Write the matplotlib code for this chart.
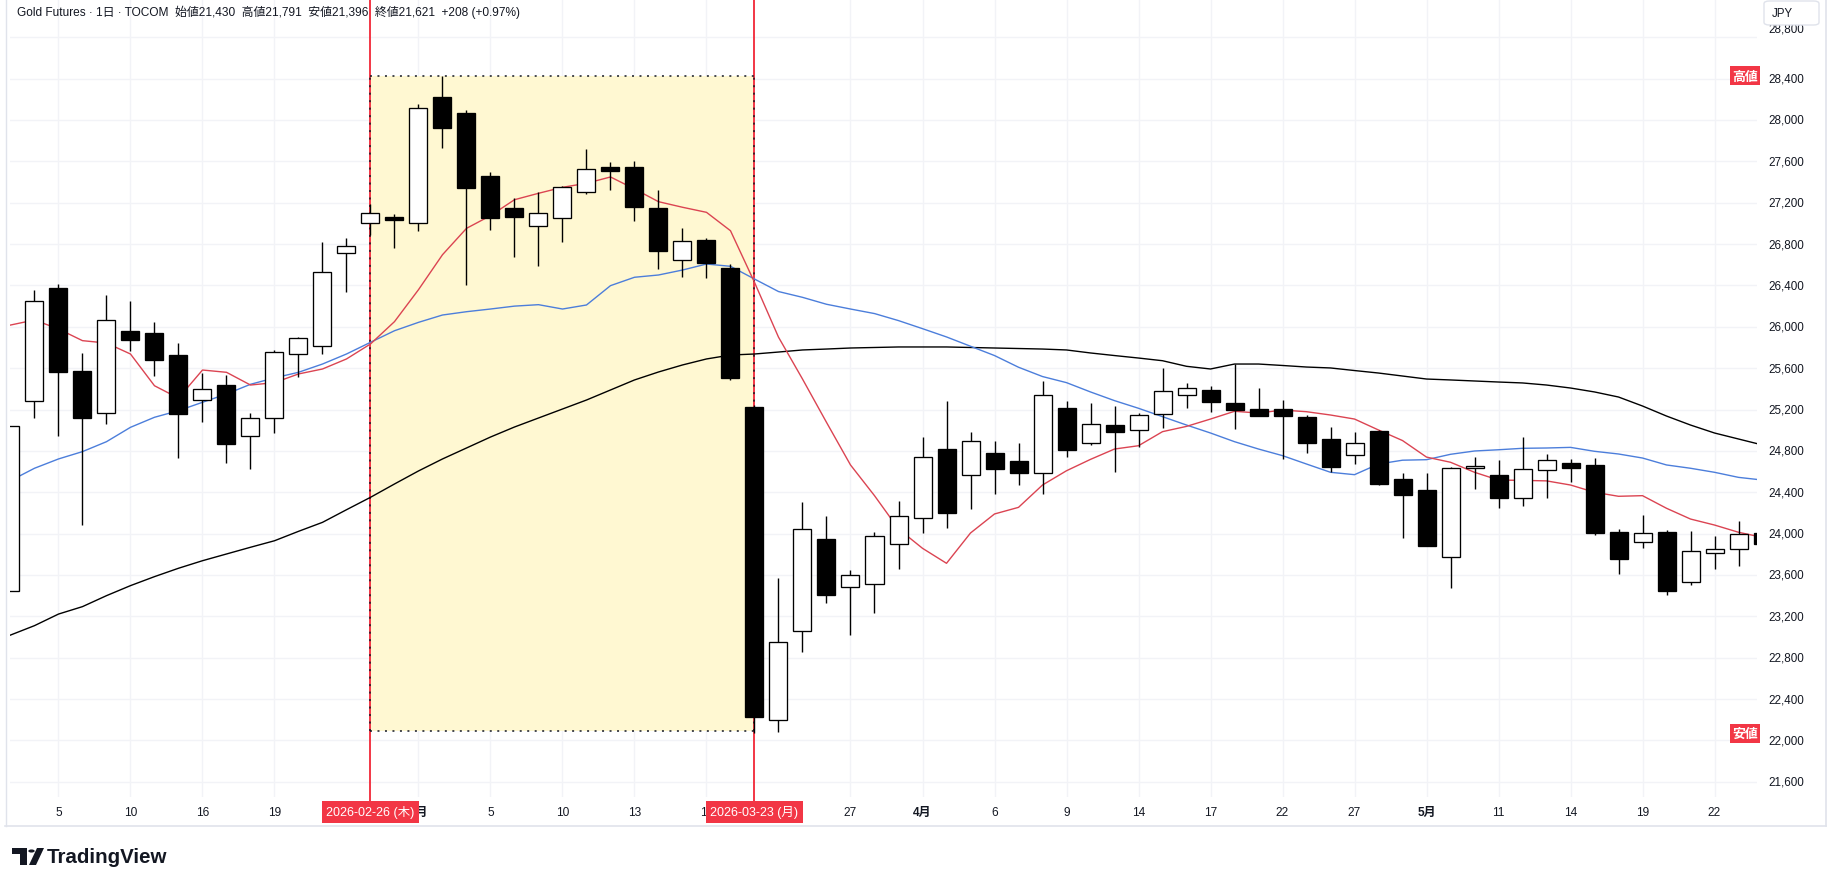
import matplotlib
matplotlib.use('Agg')
import matplotlib.pyplot as plt
import matplotlib.transforms as mtrans
from matplotlib.patches import Rectangle, FancyBboxPatch, Polygon, Circle

plt.rcParams['font.family'] = ['Liberation Sans', 'Noto Sans CJK JP', 'DejaVu Sans']

# ---------------- data ----------------
dates = ['02-03', '02-04', '02-05', '02-06', '02-09', '02-10', '02-12', '02-13', '02-16', '02-17',
         '02-18', '02-19', '02-20', '02-24', '02-25', '02-26', '02-27', '03-02', '03-03', '03-04',
         '03-05', '03-06', '03-09', '03-10', '03-11', '03-12', '03-13', '03-16', '03-17', '03-18',
         '03-19', '03-23', '03-24', '03-25', '03-26', '03-27', '03-30', '03-31', '04-01', '04-02',
         '04-03', '04-06', '04-07', '04-08', '04-09', '04-10', '04-13', '04-14', '04-15', '04-16',
         '04-17', '04-20', '04-21', '04-22', '04-23', '04-24', '04-27', '04-28', '04-30', '05-01',
         '05-07', '05-08', '05-11', '05-12', '05-13', '05-14', '05-15', '05-18', '05-19', '05-20',
         '05-21', '05-22', '05-25', '05-26']

opens = [23442, 25280, 26375, 25573, 25163, 25957, 25940, 25724, 25289, 25434,
         24941, 25115, 25737, 25814, 26711, 27001, 27059, 27001, 28220, 28068,
         27458, 27146, 26972, 27049, 27301, 27543, 27543, 27146, 26649, 26837,
         26569, 25221, 22194, 23055, 23945, 23481, 23510, 23897, 24148, 24815,
         24564, 24777, 24699, 24583, 25212, 24873, 25047, 24999, 25154, 25338,
         25386, 25263, 25202, 25202, 25125, 24912, 24757, 24992, 24525, 24422,
         23771, 24632, 24564, 24341, 24612, 24680, 24661, 24013, 23916, 24013,
         23529, 23810, 23848, 24003]
highs = [25044, 26356, 26414, 25747, 26308, 26250, 26046, 25843, 25550, 25534,
         25163, 25780, 25900, 26820, 26859, 27185, 27088, 28155, 28428, 28094,
         27497, 27243, 27301, 27360, 27720, 27591, 27601, 27320, 26956, 26859,
         26605, 25240, 23571, 24306, 24170, 23648, 24016, 24312, 24931, 25280,
         24983, 24896, 24876, 25480, 25282, 25263, 25231, 25166, 25599, 25457,
         25428, 25640, 25405, 25289, 25147, 25031, 24983, 25000, 24583, 24586,
         24642, 24738, 24709, 24931, 24767, 24719, 24728, 24042, 24180, 24035,
         24025, 23977, 24119, 24010]
lows = [23442, 25115, 24947, 24086, 25063, 25769, 25527, 24734, 25082, 24686,
        24628, 24976, 25512, 25734, 26340, 26891, 26762, 26929, 27732, 26407,
        26936, 26678, 26591, 26823, 27284, 27326, 27026, 26559, 26485, 26475,
        25490, 22070, 22085, 22858, 23332, 23022, 23235, 23661, 24009, 24057,
        24241, 24386, 24473, 24386, 24744, 24860, 24599, 24840, 25024, 25218,
        25179, 25012, 25135, 24719, 24782, 24599, 24676, 24473, 23960, 23880,
        23477, 24434, 24251, 24270, 24347, 24499, 23990, 23612, 23864, 23409,
        23506, 23661, 23690, 23880]
closes = [25044, 26247, 25566, 25121, 26063, 25875, 25682, 25160, 25396, 24870,
          25115, 25753, 25889, 26527, 26779, 27101, 27036, 28113, 27926, 27345,
          27055, 27065, 27098, 27349, 27523, 27504, 27162, 26736, 26827, 26620,
          25508, 22229, 22949, 24042, 23409, 23597, 23974, 24167, 24738, 24202,
          24893, 24628, 24589, 25338, 24811, 25057, 24980, 25144, 25376, 25405,
          25270, 25198, 25140, 25140, 24879, 24641, 24873, 24483, 24369, 23883,
          24632, 24651, 24341, 24622, 24709, 24637, 24009, 23757, 24003, 23442,
          23829, 23848, 23993, 23895]

ma_short = [26017, 26066, 25979, 25866, 25843, 25737, 25430, 25310, 25582, 25560,
            25437, 25460, 25544, 25592, 25689, 25834, 26050, 26359, 26697, 26952,
            27075, 27229, 27291, 27349, 27388, 27449, 27333, 27210, 27156, 27107,
            26929, 26430, 25900, 25495, 25076, 24664, 24367, 24045, 23858, 23713,
            24006, 24190, 24254, 24470, 24608, 24718, 24818, 24850, 24986, 25037,
            25108, 25183, 25166, 25195, 25179, 25147, 25108, 25002, 24900, 24740,
            24690, 24593, 24518, 24515, 24510, 24470, 24400, 24361, 24367, 24245,
            24141, 24083, 24013, 23964]
ma_mid = [24512, 24632, 24722, 24793, 24889, 25028, 25125, 25189, 25270, 25350,
          25444, 25506, 25560, 25640, 25737, 25850, 25962, 26043, 26114, 26146,
          26172, 26200, 26214, 26172, 26211, 26398, 26479, 26501, 26549, 26607,
          26585, 26462, 26341, 26285, 26218, 26172, 26128, 26060, 25982, 25902,
          25812, 25722, 25609, 25519, 25460, 25370, 25286, 25212, 25131, 25050,
          24973, 24889, 24818, 24754, 24673, 24593, 24570, 24673, 24710, 24715,
          24767, 24799, 24811, 24825, 24828, 24834, 24796, 24770, 24731, 24664,
          24632, 24593, 24544, 24518]
ma_long = [23019, 23110, 23222, 23294, 23400, 23497, 23584, 23665, 23738, 23803,
           23868, 23931, 24022, 24109, 24231, 24351, 24480, 24606, 24722, 24828,
           24934, 25031, 25118, 25205, 25292, 25389, 25486, 25563, 25631, 25689,
           25727, 25737, 25756, 25776, 25785, 25795, 25800, 25805, 25805, 25805,
           25800, 25795, 25790, 25785, 25776, 25747, 25722, 25698, 25672, 25618,
           25592, 25640, 25640, 25626, 25611, 25602, 25577, 25553, 25524, 25495,
           25486, 25476, 25466, 25457, 25437, 25408, 25370, 25321, 25234, 25137,
           25050, 24973, 24915, 24857]

price_ticks = [21600, 22000, 22400, 22800, 23200, 23600, 24000, 24400, 24800,
               25200, 25600, 26000, 26400, 26800, 27200, 27600, 28000, 28400, 28800]
time_tick_idx = [2, 5, 8, 11, 17, 20, 23, 26, 29, 35, 38, 41, 44, 47, 50, 53, 56, 59, 62, 65, 68, 71]
time_tick_labels = ['5', '10', '16', '19', '3月', '5', '10', '13', '18', '27', '4月', '6', '9',
                    '14', '17', '22', '27', '5月', '11', '14', '19', '22']
marker_idx = [15, 31]
marker_labels = ['2026-02-26 (木)', '2026-03-23 (月)']
rect_top = 28428
rect_bottom = 22094
header = 'Gold Futures · 1日 · TOCOM  始値21,430  高値21,791  安値21,396  終値21,621  +208 (+0.97%)'

# ---------------- figure ----------------
W, H = 1827, 887
fig = plt.figure(figsize=(W / 100, H / 100), dpi=100)
fig.patch.set_facecolor('white')


def fx(x):
    return x / W


def fy(y):
    return 1 - y / H


ax = fig.add_axes([fx(10), fy(798), 1747 / W, 798 / H])
ax.set_xlim(-0.02, 72.77)
ax.set_ylim(21453, 29170)
for s in ax.spines.values():
    s.set_visible(False)
ax.set_xticks([])
ax.set_yticks([])

GRID = '#F2F3F7'
TXT = '#131722'
RED = '#F23645'

# grid
for p in price_ticks:
    ax.axhline(p, color=GRID, lw=1.0, zorder=0)
for i in time_tick_idx:
    ax.axvline(i, color=GRID, lw=1.0, zorder=0)

# highlighted range
ax.add_patch(Rectangle((marker_idx[0], rect_bottom), marker_idx[1] - marker_idx[0],
                       rect_top - rect_bottom, facecolor='#FFF8D2', edgecolor='none', zorder=0.5))

# red vertical markers
for i in marker_idx:
    ax.axvline(i, ymin=-0.006, ymax=1, color=RED, lw=1.4, zorder=1, clip_on=False)

dot = (0, (1.3, 3.6))
x0, x1 = marker_idx
ax.plot([x0, x1], [rect_top, rect_top], color=TXT, lw=1.1, ls=dot, zorder=1.5)
ax.plot([x0, x1], [rect_bottom, rect_bottom], color=TXT, lw=1.1, ls=dot, zorder=1.5)
ax.plot([x0, x0], [rect_bottom, rect_top], color=TXT, lw=1.1, ls=dot, zorder=1.5)
ax.plot([x1, x1], [rect_bottom, rect_top], color=TXT, lw=1.1, ls=dot, zorder=1.5)

# moving averages
xs = list(range(len(closes)))
ax.plot(xs, ma_long, color='#000000', lw=1.0, zorder=2)
ax.plot(xs, ma_mid, color='#4C7EDB', lw=1.0, zorder=2)
ax.plot(xs, ma_short, color='#DB4452', lw=1.0, zorder=2)

# candles
ax.vlines(xs, lows, highs, color='#000000', lw=1.0, zorder=3)
for i in xs:
    o, c = opens[i], closes[i]
    up = c >= o
    bottom = min(o, c)
    height = max(abs(c - o), 12)
    ax.bar(i, height, bottom=bottom, width=0.75, color='white' if up else 'black',
           edgecolor='black', linewidth=0.95, zorder=4)

# price labels (right axis)
lab_tr = mtrans.blended_transform_factory(fig.transFigure, ax.transData)
for p in price_ticks:
    off = mtrans.ScaledTranslation(0, 9 / 100, fig.dpi_scale_trans) if p == 28800 else mtrans.Affine2D()
    ax.text(fx(1768), p, f'{p:,}', transform=lab_tr + off, ha='left', va='center',
            fontsize=8.4, color=TXT, clip_on=False)

# high / low markers
for val, lab in ((rect_top, '高値'), (min(lows), '安値')):
    ax.text(fx(1758), val, lab, transform=lab_tr, ha='right', va='center', fontsize=9.3,
            color='white', fontweight='bold', family=['Noto Sans CJK JP'],
            bbox=dict(boxstyle='square,pad=0.18', fc=RED, ec='none'), zorder=6, clip_on=False)

# time axis labels
t_tr = mtrans.blended_transform_factory(ax.transData, fig.transFigure)
for i, lab in zip(time_tick_idx, time_tick_labels):
    ax.text(i, fy(813), lab, transform=t_tr, ha='center', va='center', fontsize=8.6,
            color=TXT, fontweight='bold' if '月' in lab else 'normal', clip_on=False)
for i, lab in zip(marker_idx, marker_labels):
    ax.text(i, fy(813), lab, transform=t_tr, ha='center', va='center', fontsize=9.0,
            color='white', clip_on=False, zorder=10,
            bbox=dict(boxstyle='square,pad=0.38', fc=RED, ec='none'))

# header
fig.text(fx(17), fy(12), header, ha='left', va='center', fontsize=8.6, color=TXT)

# JPY box
fig.patches.append(FancyBboxPatch((fx(1764), fy(26)), (1819 - 1764) / W, 24 / H,
                                  boxstyle='round,pad=0,rounding_size=0.003',
                                  transform=fig.transFigure, fc='white', ec='#E0E3EB', lw=1.0))
fig.text(fx(1772), fy(14), 'JPY', ha='left', va='center', fontsize=8.3, color=TXT)

# frame
frame_c = '#E0E3EB'
fig.add_artist(plt.Line2D([fx(5), fx(1825.5)], [fy(826.5), fy(826.5)], color=frame_c, lw=1.2))
fig.add_artist(plt.Line2D([fx(1825.5), fx(1825.5)], [fy(0), fy(826.5)], color=frame_c, lw=1.2))
fig.add_artist(plt.Line2D([fx(5.5), fx(5.5)], [fy(0), fy(826.5)], color=frame_c, lw=1.0))

# TradingView logo
fig.patches.append(Polygon([(fx(12), fy(849)), (fx(27), fy(849)), (fx(27), fy(866)),
                            (fx(20), fy(866)), (fx(20), fy(855)), (fx(12), fy(855))],
                           closed=True, transform=fig.transFigure, fc=TXT, ec='none'))
fig.patches.append(Circle((fx(31.5), fy(852)), 3.2 / W, transform=fig.transFigure, fc=TXT, ec='none'))
fig.patches.append(Polygon([(fx(37), fy(849)), (fx(44), fy(849)), (fx(36), fy(866)), (fx(29), fy(866))],
                           closed=True, transform=fig.transFigure, fc=TXT, ec='none'))
fig.text(fx(47), fy(857.5), 'TradingView', ha='left', va='center', fontsize=14.8,
         fontweight='bold', color=TXT)

fig.savefig('out.png', dpi=100, facecolor='white')
